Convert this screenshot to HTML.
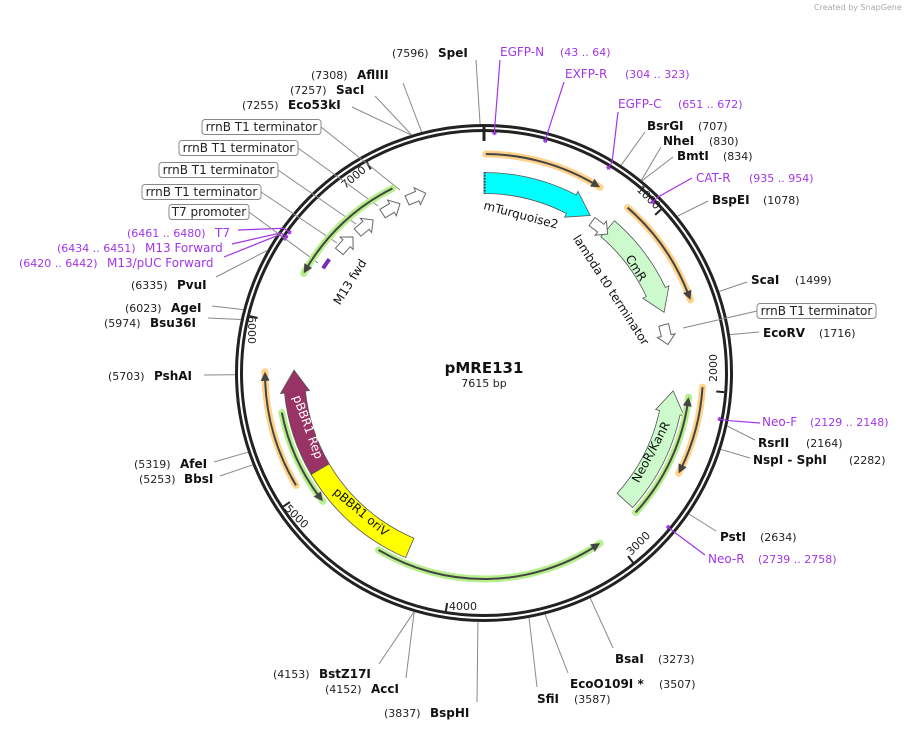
<!DOCTYPE html>
<html><head><meta charset="utf-8">
<style>
html,body{margin:0;padding:0;background:#fff;}
svg{display:block;font-family:"DejaVu Sans","Liberation Sans",sans-serif;}
.num{font-size:11px;fill:#222;}
.enz{font-size:12px;font-weight:bold;fill:#111;}
.pur{font-size:12px;fill:#a335e8;}
.purn{font-size:11px;fill:#a335e8;}
.box{font-size:12px;fill:#222;}
</style></head>
<body>
<svg id="map" width="911" height="731" viewBox="0 0 911 731">
<text x="814" y="10" font-size="8" fill="#aaa">Created by SnapGene</text>
<g id="ring"></g>
<g id="ticks"></g>
<g id="lines"></g>
<g id="feats"></g>
<g id="labels"></g>
<text x="484" y="373" text-anchor="middle" font-size="15" font-weight="bold" fill="#111">pMRE131</text>
<text x="484" y="387" text-anchor="middle" font-size="11" fill="#222">7615 bp</text>
</svg>
<script>
const TOTAL = 7615;
const bandNames = ["mTurquoise2","CmR","NeoR/KanR","pBBR1 Rep","pBBR1 oriV"];
const bandStart = [0, 859, 2795, 5068, 4294];
const bandEnd = [719, 1510, 2018, 5730, 5068];
const bandColor = ["#00ffff","#ccfacc","#ccfacc","#993366","#ffff00"];
const bandArrow = [1,1,1,1,0];
const thinStart = [10, 867, 1982, 2805, 4459, 5058, 5477, 7057];
const thinEnd = [677, 1491, 2481, 2046, 3082, 5718, 4897, 6323];
const thinType = ["o","o","o","g","g","o","g","g"];
const termPos = [751, 1587, 7107, 6928, 6727, 6558];
const tickVals = [1000,2000,3000,4000,5000,6000,7000];
const siteBp = [7596,7308,7257,7255,707,830,834,1078,1499,1716,2164,2282,2634,3273,3507,3587,3837,4152,4153,5253,5319,5703,5974,6023,6335];
const CX=484, CY=373;
const NS="http://www.w3.org/2000/svg";
function ang(bp){return bp/TOTAL*2*Math.PI;}
function pt(bp,r){const a=ang(bp);return [CX+r*Math.sin(a),CY-r*Math.cos(a)];}
function ptA(a,r){return [CX+r*Math.sin(a),CY-r*Math.cos(a)];}
function mk(tag,attrs,parent){const e=document.createElementNS(NS,tag);for(const k in attrs)e.setAttribute(k,attrs[k]);parent.appendChild(e);return e;}
const ring=document.getElementById('ring');
const c1=mk('circle',{cx:CX,cy:CY,r:247.5,fill:'none',stroke:'#222','stroke-width':3},ring);


const c2=mk('circle',{cx:CX,cy:CY,r:242.5,fill:'none',stroke:'#222','stroke-width':3},ring);


const o=mk('line',{x1:pt(0,249)[0],y1:pt(0,249)[1],x2:pt(0,232)[0],y2:pt(0,232)[1],stroke:'#222','stroke-width':3},ring);


const ticks=document.getElementById('ticks');
const tickLab=[[646,200,45],[717,368,-90],[641,546,-45],[463,610,0],[294,519,45],[248,330,90],[356,180,-40]];
tickVals.forEach((v,i)=>{
  const a=pt(v,241),b=pt(v,233);
  const l=mk('line',{x1:a[0],y1:a[1],x2:b[0],y2:b[1],stroke:'#222','stroke-width':2},ticks);
  
  
  const t=tickLab[i];
  const tx=mk('text',{x:t[0],y:t[1],'font-size':11,fill:'#222','text-anchor':'middle',transform:`rotate(${t[2]} ${t[0]} ${t[1]})`},ticks);
  tx.textContent=String(v);
  
  
});
const feats=document.getElementById('feats');
function bandPath(b1,b2,r,w,arrow){
  const a1=ang(b1),a2=ang(b2);const dir=a2>a1?1:-1;
  const hl=arrow?22/r:0;const aH=a2-dir*hl;
  const ro=r+w/2,ri=r-w/2,sw=dir>0?1:0,sw2=dir>0?0:1;
  const large=Math.abs(aH-a1)>Math.PI?1:0;
  let p1=ptA(a1,ro),p2=ptA(aH,ro),p3=ptA(aH,ri),p4=ptA(a1,ri);
  let d=`M${p1} A${ro},${ro} 0 ${large} ${sw} ${p2}`;
  if(arrow){const h1=ptA(aH,ro+4),tp=ptA(a2,r),h2=ptA(aH,ri-4);d+=` L${h1} L${tp} L${h2} L${p3}`;}
  else d+=` L${p3}`;
  d+=` A${ri},${ri} 0 ${large} ${sw2} ${p4} Z`;
  return d;
}
bandNames.forEach((n,i)=>{
  const p=mk('path',{d:bandPath(bandStart[i],bandEnd[i],190,21,bandArrow[i]),fill:bandColor[i],stroke:'#555','stroke-width':0.8},feats);
  
  
});
{const a=pt(0,201),b=pt(0,179);const l=mk('line',{x1:a[0]+1,y1:a[1],x2:b[0]+1,y2:b[1],stroke:'#333','stroke-width':1.2,'stroke-dasharray':'1.5,1.5'},feats);

}
function arcD(b1,b2,r){const a1=ang(b1),a2=ang(b2);const p1=ptA(a1,r),p2=ptA(a2,r);const sw=a2>a1?1:0;const lg=Math.abs(a2-a1)>Math.PI?1:0;return `M${p1} A${r},${r} 0 ${lg} ${sw} ${p2}`;}
thinStart.forEach((s,i)=>{
  const e=thinEnd[i];const r=thinType[i]==='o'?219:206;
  const glow=thinType[i]==='o'?'#ffd28a':'#b6ef8c';
  const a1=ang(s),a2=ang(e);const dir=a2>a1?1:-1;
  const aE=a2-dir*6/r;
  const g=mk('g',{},feats);
  
  
  mk('path',{d:arcD(s,e,r),fill:'none',stroke:glow,'stroke-width':7,'stroke-linecap':'round'},g);
  mk('path',{d:`M${ptA(a1,r)} A${r},${r} 0 0 ${dir>0?1:0} ${ptA(aE,r)}`,fill:'none',stroke:'#444','stroke-width':2},g);
  const tp=ptA(a2,r),h1=ptA(a2-dir*9/r,r+4.5),h2=ptA(a2-dir*9/r,r-4.5);
  mk('path',{d:`M${h1} L${tp} L${h2} Z`,fill:'#444'},g);
});
termPos.forEach((b,i)=>{
  const r=i<2?186:189;
  const a=ang(b),L=20/r;
  const p=[ptA(a,r+5),ptA(a+L*0.55,r+5),ptA(a+L*0.55,r+9),ptA(a+L,r),ptA(a+L*0.55,r-9),ptA(a+L*0.55,r-5),ptA(a,r-5)];
  const t=mk('path',{d:'M'+p.join(' L')+' Z',fill:'#fff',stroke:'#666','stroke-width':1},feats);
  
  
});
{const m=mk('path',{d:arcD(6410,6480,192),stroke:'#7a2ab8','stroke-width':4,fill:'none'},feats);

}
const fl=[["mTurquoise2",521,215,15,"#111"],["lambda t0 terminator",611,290,57,"#111"],["CmR",636,268,58,"#111"],["NeoR/KanR",651,452,-62,"#111"],["pBBR1 Rep",308,427,70,"#fff"],["pBBR1 oriV",361,512,40,"#111"],["M13 fwd",350,282,-58,"#111"]];
const labels=document.getElementById('labels');
fl.forEach(f=>{const t=mk('text',{x:f[1],y:f[2]+4,'font-size':12,fill:f[4],'text-anchor':'middle',transform:`rotate(${f[3]} ${f[1]} ${f[2]})`},labels);t.textContent=f[0];

});
const siteLab=[
["SpeI","(7596)",438,392,57,476,60],["AflIII","(7308)",357,311,79,403,83],["SacI","(7257)",336,290,94,375,96],["Eco53kI","(7255)",288,242,109,352,107],
["BsrGI","(707)",647,698,130,645,132],["NheI","(830)",663,709,145,661,147],["BmtI","(834)",677,723,160,673,157],["BspEI","(1078)",712,763,204,708,201],
["ScaI","(1499)",751,795,284,747,282],["EcoRV","(1716)",763,819,337,759,332],["RsrII","(2164)",758,806,447,755,440],["NspI  - SphI","(2282)",753,849,464,750,458],
["PstI","(2634)",720,760,541,716,531],["BsaI","(3273)",615,658,663,613,648],["EcoO109I *","(3507)",570,659,688,568,673],["SfiI","(3587)",537,574,703,537,687],
["BspHI","(3837)",430,384,717,477,702],["AccI","(4152)",371,325,693,406,678],["BstZ17I","(4153)",319,273,678,379,664],["BbsI","(5253)",184,139,483,220,476],
["AfeI","(5319)",180,134,468,214,462],["PshAI","(5703)",154,108,380,204,375],["Bsu36I","(5974)",150,104,327,208,318],["AgeI","(6023)",171,125,312,212,306],["PvuI","(6335)",177,131,289,216,277]];
const lines=document.getElementById('lines');
siteLab.forEach((s,i)=>{
  const bp=siteBp.find(b=>s[1]==='('+b+')');
  const p=pt(bp,249);
  const l=mk('line',{x1:p[0],y1:p[1],x2:s[5],y2:s[6],stroke:'#888','stroke-width':1},lines);
  
  
  const g=mk('g',{},labels);
  
  
  const t=mk('text',{x:s[2],y:s[4],class:'enz','xml:space':'preserve'},g);t.textContent=s[0];
  const n=mk('text',{x:s[3],y:s[4],class:'num'},g);n.textContent=s[1];
});
const primLab=[["EGFP-N","(43 .. 64)",500,56,53,500,60],["EXFP-R","(304 .. 323)",565,78,313,564,82],["EGFP-C","(651 .. 672)",618,108,661,618,112],
["CAT-R","(935 .. 954)",696,182,944,692,178],["Neo-F","(2129 .. 2148)",762,426,2138,760,423],["Neo-R","(2739 .. 2758)",708,563,2748,705,555],
["T7","(6461 .. 6480)",215,237,6470,238,230],["M13 Forward","(6434 .. 6451)",145,252,6442,232,244],["M13/pUC Forward","(6420 .. 6442)",107,267,6431,224,257]];
const primNumX=[560,625,678,749,810,758,127,57,19];
primLab.forEach((s,i)=>{
  const p=pt(s[4],247),q=pt(s[4],238);
  const l=mk('path',{d:`M${s[5]},${s[6]} L${p} L${q}`,stroke:'#a335e8','stroke-width':1.2,fill:'none'},lines);
  
  
  mk('path',{d:arcD(s[4]-10,s[4]+10,240),stroke:'#a335e8','stroke-width':2.5,fill:'none'},lines);
  const g=mk('g',{},labels);
  
  
  const t=mk('text',{x:s[2],y:s[3],class:'pur'},g);t.textContent=s[0];
  const n=mk('text',{x:primNumX[i],y:s[3],class:'purn'},g);n.textContent=s[1];
});
const boxLab=[["rrnB T1 terminator",202,127,119,400,190],["rrnB T1 terminator",179,148,119,378,206],["rrnB T1 terminator",159,170,119,356,224],["rrnB T1 terminator",142,192,119,337,243],["T7 promoter",169,212,80,318,263],["rrnB T1 terminator",757,311,119,683,328]];
boxLab.forEach((b,i)=>{
  const right=b[1]>484;
  const lx=right?b[1]:b[1]+b[3];
  const l=mk('line',{x1:lx,y1:b[2],x2:b[4],y2:b[5],stroke:'#888','stroke-width':1},lines);
  
  
  const g=mk('g',{},labels);
  
  
  mk('rect',{x:b[1],y:b[2]-7.5,width:b[3],height:15,rx:3,fill:'#fff',stroke:'#888','stroke-width':1},g);
  const t=mk('text',{x:b[1]+b[3]/2,y:b[2]+4,class:'box','text-anchor':'middle'},g);t.textContent=b[0];
});
</script>
</body></html>
